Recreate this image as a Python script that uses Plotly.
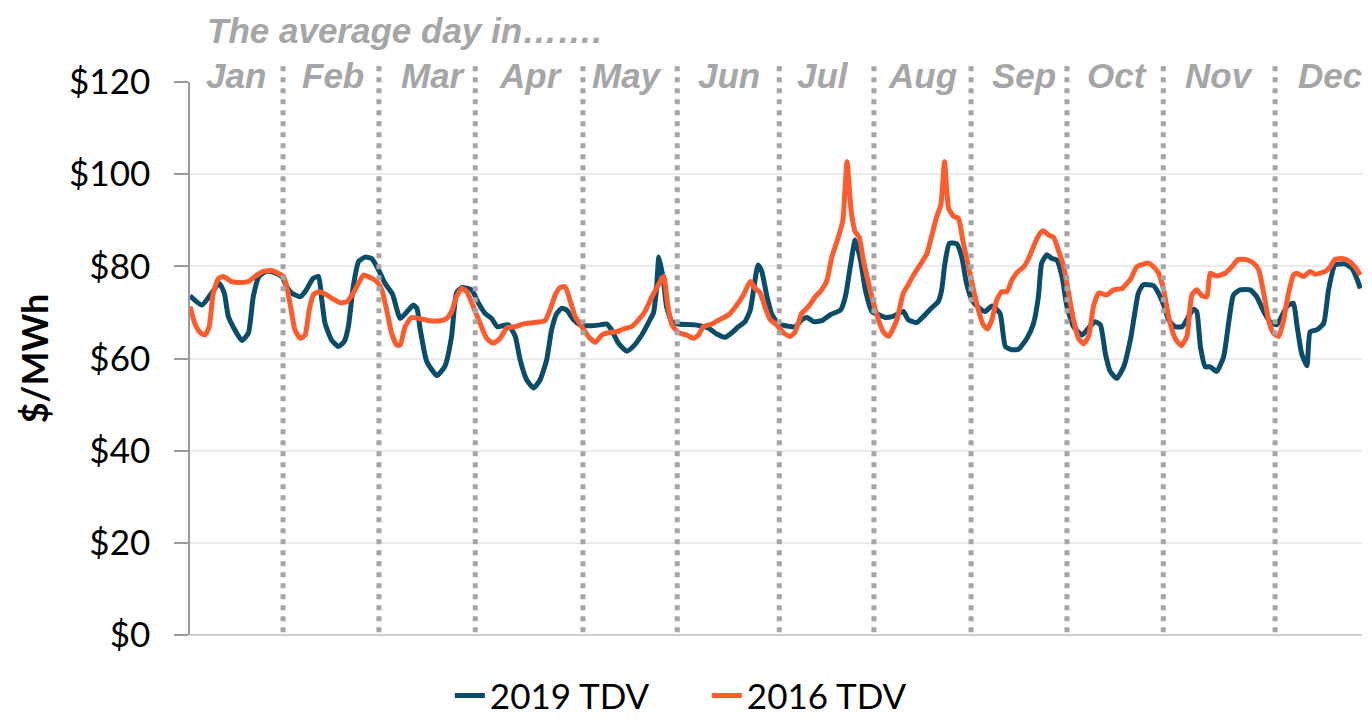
import plotly.graph_objects as go

# ---------------- data ----------------
# x = hour index across the 12 "average days" (24 h per month), y = $/MWh
hours_2019 = [0, 2.9, 5.3, 7.2, 8.4, 9.4, 11.0, 12.7, 14.3, 15.5, 16.9, 18.8, 20.8, 22.5, 23.7,
              24.9, 27.0, 28.2, 30.2, 31.5, 32.3, 33.1, 34.7, 36.4, 37.8, 38.8, 40.0, 41.3, 42.9,
              44.5, 46.0, 47.8, 49.6, 51.5, 53.2, 54.7, 55.6, 56.4, 58.0, 60.5, 62.5, 64.1, 65.3,
              66.6, 69.0, 70.7, 72.3, 73.9, 75.3, 78.0, 79.7, 80.9, 82.5, 84.2, 85.8, 87.4, 88.6,
              89.9, 91.1, 92.3, 94.0, 95.6, 98.0, 100.5, 102.1, 103.3, 105.0, 107.0, 108.6, 110.7,
              112.7, 113.6, 114.3, 114.9, 116.0, 116.8, 118.1, 119.7, 123.8, 127.0, 129.1, 131.1,
              132.8, 134.4, 136.0, 137.3, 138.1, 139.2, 140.1, 141.4, 142.6, 144.2, 145.9, 148.3,
              149.9, 151.2, 152.8, 154.8, 156.9, 159.4, 160.6, 161.8, 163.0, 164.3, 165.5, 167.1,
              168.8, 170.4, 172.4, 174.8, 176.0, 178.1, 179.7, 181.4, 183.4, 184.2, 185.0, 186.1,
              187.9, 189.1, 190.3, 191.6, 193.2, 194.9, 196.5, 198.5, 199.8, 201.4, 203.0, 205.1,
              206.7, 207.9, 208.7, 210.0, 211.2, 212.4, 213.7, 214.9, 216.5, 218.6, 220.2, 221.8,
              223.1, 224.3, 225.5, 227.1, 228.8, 230.6, 232.4, 233.6, 236.1, 237.3, 238.6, 239.8,
              241.4, 243.1, 244.7, 245.9, 246.7, 247.6, 248.8, 250.0, 251.6, 253.3, 254.5, 255.7,
              257.3, 259.8, 261.4, 263.1, 264.7, 266.3, 267.5, 268.8, 270.4, 271.2, 272.4, 273.7,
              274.5, 276.1, 277.8, 279.0, 280.6, 283.1, 284.7, 285.9, 286.8]
tdv_2019 = [73.6, 71.6, 74.2, 76.3, 74.2, 69.1, 66.2, 63.9, 65.5, 73.4, 77.8, 78.9, 78.6, 77.8, 75.6,
            74.2, 73.4, 74.5, 77.4, 77.8, 72.7, 67.6, 64.0, 62.6, 63.7, 66.9, 75.6, 81.0, 82.0,
            81.7, 79.6, 76.3, 74.0, 68.7, 70.2, 71.6, 70.9, 66.4, 59.4, 56.3, 58.4, 64.8, 74.2,
            75.4, 74.9, 72.0, 69.8, 68.7, 66.9, 67.3, 64.8, 59.7, 55.4, 53.6, 55.4, 59.7, 66.2,
            69.8, 70.9, 70.5, 68.4, 67.3, 67.1, 67.3, 67.5, 66.2, 63.3, 61.6, 62.6, 65.1,
            68.4, 70.0, 75.0, 82.0, 77.0, 71.2, 68.0, 67.5, 67.3, 66.6, 65.3, 64.6,
            65.6, 66.9, 68.0, 70.5, 74.9, 80.3, 78.9, 73.4, 69.5, 67.6, 67.1, 66.9,
            68.4, 68.9, 68.0, 68.2, 69.5, 70.5, 73.4, 79.9, 85.7, 81.4, 74.9, 70.2,
            69.5, 68.9, 69.2, 70.2, 68.4, 67.8, 69.1, 70.7, 72.4, 74.9, 80.7, 85.0,
            84.9, 82.1, 76.3, 72.7, 71.1, 70.2, 71.4, 69.8, 62.6, 61.9, 62.0, 64.4,
            67.6, 73.4, 80.7, 82.5, 81.7, 81.4, 77.8, 71.3, 66.9, 65.1, 66.6, 68.0,
            67.3, 61.1, 57.2, 55.7, 58.2, 64.8, 74.2, 76.0, 75.8, 74.2, 71.6, 68.4,
            66.9, 66.9, 69.1, 70.7, 70.2, 62.6, 58.2, 58.2, 57.2, 60.4, 67.6, 73.8,
            74.9, 74.9, 73.4, 70.2, 68.0, 67.3, 69.1, 71.3, 72.0, 67.6, 61.1, 58.4,
            65.8, 66.2, 67.6, 74.9, 80.3, 80.5, 79.6, 77.4, 75.2]

hours_2016 = [0, 1.2, 2.5, 3.7, 4.7, 5.7, 7.0, 8.2, 10.2, 12.7, 14.3, 15.9, 18.0, 20.0, 21.6, 22.9,
              23.7, 24.8, 25.7, 27.0, 28.2, 29.2, 30.2, 31.5, 33.1, 34.7, 36.8, 38.4, 40.0, 41.3,
              42.5, 44.1, 45.8, 47.0, 48.2, 49.4, 50.7, 51.5, 52.7, 54.3, 56.0, 58.8, 61.3, 62.9,
              64.1, 65.3, 66.6, 67.8, 69.4, 71.1, 72.7, 74.3, 76.0, 77.6, 79.7, 81.7, 84.2, 87.0,
              88.2, 89.5, 90.7, 91.9, 93.1, 94.4, 96.0, 97.6, 99.3, 100.9, 102.5, 104.6, 106.2,
              108.2, 109.9, 111.5, 113.2, 114.8, 116.1, 117.0, 118.1, 119.7, 121.7, 123.4, 124.6,
              125.8, 127.9, 129.9, 132.0, 134.0, 135.6, 137.3, 138.5, 139.7, 141.0, 142.2, 143.8,
              145.5, 147.1, 148.3, 149.9, 151.6, 153.2, 154.8, 156.1, 157.3, 158.9, 160.0, 161.0,
              162.0, 163.0, 164.0, 165.0, 166.3, 167.5, 168.7, 169.9, 171.2, 173.2, 174.8, 176.0,
              177.3, 178.9, 180.6, 181.8, 183.0, 184.0, 184.9, 185.9, 187.1, 188.3, 189.5, 190.8,
              192.0, 193.2, 194.4, 195.4, 196.5, 197.7, 198.9, 200.2, 201.4, 202.6, 204.3, 205.5,
              206.7, 207.9, 209.0, 210.4, 211.6, 212.8, 214.1, 215.3, 216.5, 217.7, 219.0, 220.2,
              221.4, 222.7, 224.7, 226.3, 228.4, 230.6, 232.0, 234.9, 236.1, 237.3, 238.6, 239.8,
              241.4, 242.9, 244.3, 245.5, 246.7, 248.0, 249.2, 250.0, 251.6, 253.7, 255.3, 256.9,
              259.0, 260.6, 261.9, 263.1, 264.3, 265.5, 266.8, 268.0, 269.2, 270.4, 271.2, 272.9,
              274.5, 275.7, 278.2, 279.4, 280.6, 282.3, 283.9, 285.5, 286.8]
tdv_2016 = [71.3, 67.6, 65.6, 65.1, 66.9, 74.2, 77.4, 77.8, 76.7, 76.5, 76.7, 77.8, 78.9, 79.1, 78.5, 77.8,
            75.6, 70.5, 66.2, 64.4, 65.1, 70.5, 73.8, 74.5, 74.0, 73.1, 72.1, 72.3, 74.2, 76.3,
            78.1, 77.6, 76.7, 74.9, 70.5, 65.5, 62.9, 62.9, 66.9, 68.9, 68.7, 68.2, 68.2, 68.7,
            70.2, 73.4, 75.2, 74.5, 71.3, 67.6, 64.4, 63.3, 64.4, 66.6, 66.9, 67.5, 67.8, 68.2,
            70.5, 73.8, 75.4, 75.6, 72.7, 69.1, 66.9, 64.8, 63.5, 65.1, 65.6, 65.8, 66.4,
            66.9, 68.4, 70.2, 73.4, 76.0, 77.8, 72.0, 67.3, 65.6, 65.1, 64.4, 65.1,
            66.9, 67.5, 68.5, 69.5, 71.6, 73.8, 76.7, 75.2, 74.3, 70.9, 68.4, 67.3,
            65.5, 64.8, 65.8, 69.8, 71.3, 73.4, 74.9, 77.0, 82.1, 86.4, 90.1, 102.7,
            92.2, 87.5, 86.3, 81.4, 76.3, 72.0, 68.4, 65.8, 64.8, 68.4, 74.2, 76.0,
            78.1, 80.3, 82.8, 86.8, 90.8, 93.3, 102.7, 92.6, 90.9, 90.4, 85.0, 79.9,
            74.9, 70.5, 67.3, 66.4, 68.4, 72.7, 74.5, 74.5, 77.0, 78.6, 79.9, 81.7,
            84.3, 86.6, 87.7, 86.8, 86.3, 83.5, 79.9, 74.2, 68.4, 64.4, 63.2, 64.8,
            71.3, 74.2, 73.8, 74.9, 75.2, 77.4, 79.9, 80.7, 79.9, 78.6, 74.9, 69.1,
            64.4, 62.8, 64.8, 73.8, 74.9, 73.6, 73.4, 78.5, 77.9, 78.5, 79.9, 81.5,
            81.4, 80.7, 79.2, 74.2, 68.4, 65.5, 64.8, 68.4, 74.2, 78.1, 78.5, 77.8,
            78.9, 78.3, 78.9, 79.9, 81.5, 81.7, 81.2, 79.9, 78.1]

month_names = ["Jan", "Feb", "Mar", "Apr", "May", "Jun",
               "Jul", "Aug", "Sep", "Oct", "Nov", "Dec"]
month_label_hours = [11.3, 35.0, 59.6, 83.6, 107.1, 132.1, 155.1, 179.4, 204.4, 227.2, 252.2, 279.4]
month_boundary_hours = [22.8, 46.3, 69.9, 96.3, 119.4, 144.4, 167.6, 191.4, 214.9, 238.5, 265.9]

y_tick_values = [0, 20, 40, 60, 80, 100, 120]
y_tick_labels = ["$0", "$20", "$40", "$60", "$80", "$100", "$120"]

series_names = ["2019 TDV", "2016 TDV"]
title_text = "The average day in……."
y_title = "$/MWh"

# ---------------- styling ----------------
C_2019 = "#0A4D6B"
C_2016 = "#FF5C2E"
GREY_TXT = "#A6A6A6"
FONT = "Lato"

fig = go.Figure()
fig.add_trace(go.Scatter(x=hours_2019, y=tdv_2019, mode="lines", name=series_names[0],
                         line=dict(color=C_2019, width=5, shape="spline", smoothing=0.5)))
fig.add_trace(go.Scatter(x=hours_2016, y=tdv_2016, mode="lines", name=series_names[1],
                         line=dict(color=C_2016, width=5, shape="spline", smoothing=0.5)))

for h in month_boundary_hours:
    fig.add_shape(type="line", xref="x", yref="paper", x0=h, x1=h, y0=0.005, y1=1.036,
                  layer="above", line=dict(color=GREY_TXT, width=5, dash="5px,6px"))

for name, h in zip(month_names, month_label_hours):
    fig.add_annotation(x=h, xref="x", y=1.011, yref="paper", text=f"<b><i>{name}</i></b>",
                       showarrow=False, xanchor="center", yanchor="middle",
                       font=dict(family="Liberation Sans", size=35, color=GREY_TXT))

fig.add_annotation(x=0.013, xref="paper", y=1.094, yref="paper",
                   text=f"<b><i>{title_text}</i></b>", showarrow=False,
                   xanchor="left", yanchor="middle",
                   font=dict(family="Liberation Sans", size=35, color=GREY_TXT))

# the page places the figure 8 px from the top-left corner, so the figure is
# sized 1364x712 to fill the 1372x720 window
fig.update_layout(
    width=1364, height=712,
    margin=dict(l=182, r=10, t=74, b=85, autoexpand=False),
    paper_bgcolor="white", plot_bgcolor="white",
    font=dict(family=FONT, color="black"),
    showlegend=True,
    legend=dict(orientation="h", x=0.441, xanchor="center", y=-0.110, yanchor="middle",
                font=dict(family=FONT, size=35, color="black"),
                entrywidth=212, entrywidthmode="pixels",
                bgcolor="rgba(0,0,0,0)"),
    xaxis=dict(range=[0, 287.2], showgrid=False, zeroline=False, showticklabels=False,
               ticks="", showline=False, fixedrange=True),
    yaxis=dict(range=[0, 120], tickvals=y_tick_values, ticktext=y_tick_labels,
               tickfont=dict(family=FONT, size=35, color="black"),
               showgrid=True, gridcolor="#EBEBEB", gridwidth=1.5,
               zeroline=True, zerolinecolor="#D0D0D0", zerolinewidth=1.5,
               showline=True, linecolor="#9A9A9A", linewidth=1.5,
               ticks="outside", ticklen=14, tickcolor="#9A9A9A", tickwidth=1.5,
               ticklabelstandoff=17,
               title=dict(text=f"<b>{y_title}</b>", standoff=9,
                          font=dict(family=FONT, size=36, color="black"))),
)

fig.write_html("out.html")
